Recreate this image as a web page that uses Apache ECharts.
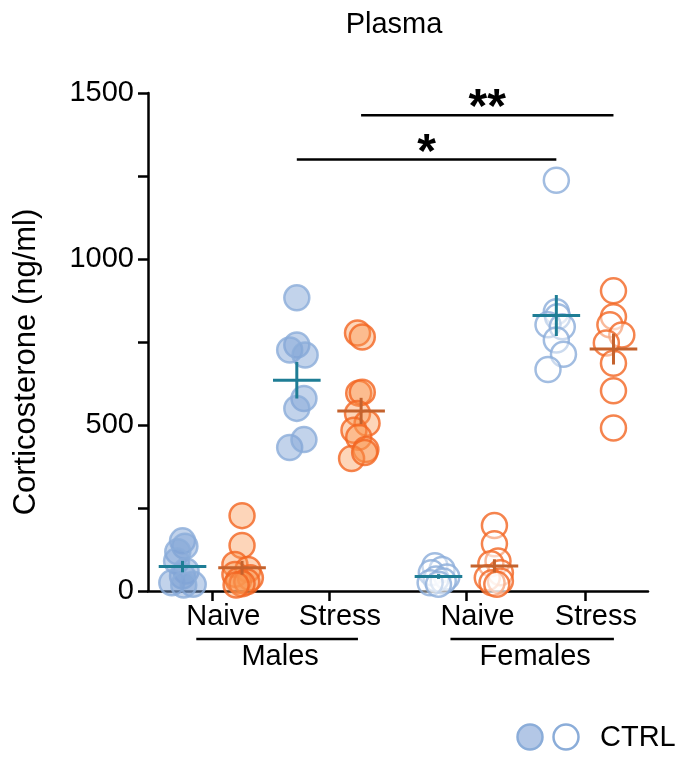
<!DOCTYPE html>
<html><head><meta charset="utf-8">
<script src="https://cdn.jsdelivr.net/npm/echarts@6/dist/echarts.min.js"></script>
<style>html,body{margin:0;padding:0;background:#fff}#c{width:677px;height:757px}</style>
</head><body><div id="c"></div>
<script>
// ---- data ----
const sexes = ['Males', 'Females'];
const conditions = ['Naive', 'Stress', 'Naive', 'Stress'];
const yTicks = [0, 500, 1000, 1500];
// corticosterone (ng/ml)
const maleNaiveCtrl   = [151, 135, 118, 90, 60, 45, 25, 20, 18];
const maleNaiveOther  = [227, 137, 80, 65, 50, 40, 32, 28, 22, 18];
const maleStressCtrl  = [883, 741, 726, 711, 580, 550, 432, 456];
const maleStressOther = [777, 765, 596, 599, 535, 505, 484, 463, 426, 399, 417];
const femNaiveCtrl    = [76, 65, 55, 42, 36, 30, 25, 20];
const femNaiveOther   = [197, 142, 90, 82, 55, 40, 30, 25, 20];
const femStressCtrl   = [1237, 841, 826, 802, 796, 756, 713, 667];
const femStressOther  = [904, 826, 802, 771, 747, 686, 603, 491];
// horizontal scatter (beeswarm) offsets, in group units
const maleNaiveCtrlJit   = [0, 0.02, -0.04, -0.05, 0.03, 0, -0.09, 0.09, 0.01];
const maleNaiveOtherJit  = [0.0, 0.0, -0.06, 0.05, -0.06, 0.07, -0.03, 0.04, 0.0, -0.05];
const maleStressCtrlJit  = [0, 0, -0.06, 0.07, 0.06, 0, -0.06, 0.06];
const maleStressOtherJit = [-0.03, 0.01, -0.02, 0.01, -0.03, 0.05, -0.06, -0.02, 0.04, -0.08, 0.03];
const femNaiveCtrlJit    = [-0.03, 0.03, -0.06, 0.07, -0.02, 0.04, -0.07, 0.0];
const femNaiveOtherJit   = [0, 0, 0.03, -0.03, 0.05, -0.06, 0.05, -0.02, 0.02];
const femStressCtrlJit   = [0, 0, 0.01, -0.07, 0.05, 0, 0.06, -0.07];
const femStressOtherJit  = [0, 0, -0.03, 0.07, -0.06, 0, 0, 0];
// significance annotations
const sigBars = [
  {from: 1, to: 3, cluster: 'ctrl', y: 1300, label: '*'},
  {from: 1, to: 3, cluster: 'other', y: 1433, label: '**'}
];

// ---- layout constants ----
const groupPos = [1, 2, 3.17, 4.17];
const ctrlOff = [-0.21, -0.25, -0.23, -0.24];
const otherOff = [0.29, 0.29, 0.24, 0.24];
const FONT = "'Liberation Sans', Arial, Helvetica, sans-serif";
const FS = 29;
const BLUE_FILL = 'rgba(128,162,214,0.6)', BLUE_EDGE = '#8badd9';
const OR_FILL = 'rgba(251,150,80,0.5)', OR_EDGE = '#f26522';
const BLUE_MEAN = '#1e7d95', OR_MEAN = '#c4622d';

function pts(vals, jit, g, off) {
  return vals.map((v, i) => [groupPos[g] + off[g] + jit[i], v]);
}
function stats(vals) {
  const n = vals.length, m = vals.reduce((a, b) => a + b, 0) / n;
  const sd = Math.sqrt(vals.reduce((a, b) => a + (b - m) * (b - m), 0) / (n - 1));
  return [m, sd / Math.sqrt(n)];
}
const ctrlGroups = [maleNaiveCtrl, maleStressCtrl, femNaiveCtrl, femStressCtrl];
const otherGroups = [maleNaiveOther, maleStressOther, femNaiveOther, femStressOther];
const ctrlJits = [maleNaiveCtrlJit, maleStressCtrlJit, femNaiveCtrlJit, femStressCtrlJit];
const otherJits = [maleNaiveOtherJit, maleStressOtherJit, femNaiveOtherJit, femStressOtherJit];

function scatter(name, data, filled, isCtrl) {
  return {
    type: 'scatter', name, data, symbol: 'circle', symbolSize: 25, z: 3,
    itemStyle: {
      color: filled ? (isCtrl ? BLUE_FILL : OR_FILL) : 'rgba(255,255,255,0.55)',
      borderColor: isCtrl ? BLUE_EDGE : OR_EDGE, borderWidth: 2.5
    },
    emphasis: {disabled: true}, silent: true
  };
}
const series = [];
for (let g = 0; g < 4; g++) {
  const filled = g < 2;
  series.push(scatter('CTRL ' + conditions[g] + ' ' + sexes[g < 2 ? 0 : 1], pts(ctrlGroups[g], ctrlJits[g], g, ctrlOff), filled, true));
  series.push(scatter('Other ' + conditions[g] + ' ' + sexes[g < 2 ? 0 : 1], pts(otherGroups[g], otherJits[g], g, otherOff), filled, false));
}
function meanSeries(groups, off, color) {
  const data = groups.map((vals, g) => { const [m, s] = stats(vals); return [groupPos[g] + off[g], m, s]; });
  return {
    type: 'custom', data, z: 5, silent: true,
    renderItem(params, api) {
      const x = api.value(0), m = api.value(1), s = api.value(2);
      const c = api.coord([x, m]), l = api.coord([x - 0.2, m]), r = api.coord([x + 0.2, m]);
      const t = api.coord([x, m + s]), b = api.coord([x, m - s]);
      return {type: 'group', children: [
        {type: 'line', shape: {x1: l[0], y1: c[1], x2: r[0], y2: c[1]}, style: {stroke: color, lineWidth: 3}},
        {type: 'line', shape: {x1: c[0], y1: t[1], x2: c[0], y2: b[1]}, style: {stroke: color, lineWidth: 3}}
      ]};
    }
  };
}
series.push(meanSeries(ctrlGroups, ctrlOff, BLUE_MEAN));
series.push(meanSeries(otherGroups, otherOff, OR_MEAN));
series.push({
  type: 'custom', z: 6, silent: true,
  data: sigBars.map(s => {
    const off = s.cluster === 'ctrl' ? ctrlOff : otherOff;
    return [groupPos[s.from] + off[s.from], groupPos[s.to] + off[s.to], s.y];
  }),
  renderItem(params, api) {
    const a = api.coord([api.value(0), api.value(2)]), b = api.coord([api.value(1), api.value(2)]);
    const lbl = sigBars[params.dataIndex].label;
    return {type: 'group', children: [
      {type: 'line', shape: {x1: a[0], y1: a[1], x2: b[0], y2: b[1]}, style: {stroke: '#000', lineWidth: 2.5}},
      {type: 'text', style: {text: lbl, x: (a[0] + b[0]) / 2, y: a[1] + 18, align: 'center', verticalAlign: 'bottom',
        textAlign: 'center', textVerticalAlign: 'bottom', font: 'bold 48px ' + FONT, fill: '#000'}}
    ]};
  }
});

const tickPos = [0, 1, 2, 3].map(g => (groupPos[g] + ctrlOff[g] + groupPos[g] + otherOff[g]) / 2);

const chart = echarts.init(document.getElementById('c'), null, {renderer: 'canvas'});
chart.setOption({
  animation: false,
  backgroundColor: '#fff',
  textStyle: {fontFamily: FONT},
  title: {text: 'Plasma', left: 389, top: 5, textAlign: 'center',
    textStyle: {fontSize: FS, fontWeight: 'normal', color: '#000', fontFamily: FONT}},
  grid: {left: 148, right: 29, top: 93, bottom: 166, containLabel: false},
  xAxis: {
    type: 'value', min: 0.5, max: 4.7,
    axisLine: {show: true, onZero: false, lineStyle: {color: '#000', width: 2.5}},
    axisTick: {show: true, customValues: tickPos, length: 10, lineStyle: {color: '#000', width: 2.5}},
    axisLabel: {show: true, customValues: tickPos, fontSize: FS, color: '#000', fontFamily: FONT, margin: 11,
      padding: [0, 0, 0, 22],
      formatter: v => { const i = tickPos.findIndex(t => Math.abs(t - v) < 1e-6); return i >= 0 ? conditions[i] : ''; }},
    splitLine: {show: false}
  },
  yAxis: {
    type: 'value', min: 0, max: 1500, interval: 500,
    name: 'Corticosterone (ng/ml)', nameLocation: 'middle', nameGap: 106,
    nameTextStyle: {fontSize: 31, color: '#000', fontFamily: FONT, padding: [0, 40, 0, 0]},
    axisLine: {show: true, lineStyle: {color: '#000', width: 2.5}},
    axisTick: {show: true, length: 10, lineStyle: {color: '#000', width: 2.5}},
    minorTick: {show: true, splitNumber: 2, length: 10, lineStyle: {color: '#000', width: 2.5}},
    axisLabel: {fontSize: FS, color: '#000', fontFamily: FONT, margin: 14,
      formatter: v => yTicks.includes(v) ? String(v) : ''},
    splitLine: {show: false}
  },
  series
});

// group (sex) brackets under the axis, positioned from the axis scale
const px = v => chart.convertToPixel({xAxisIndex: 0}, v);
const graphics = [];
sexes.forEach((s, k) => {
  const x1 = px(tickPos[2 * k]) - 16, x2 = px(tickPos[2 * k + 1]) + 29;
  graphics.push({type: 'line', shape: {x1, y1: 639, x2, y2: 639}, style: {stroke: '#000', lineWidth: 2.5}});
  graphics.push({type: 'text', style: {text: s, x: (x1 + x2) / 2 + 3, y: 657, align: 'center', verticalAlign: 'middle',
    font: FS + 'px ' + FONT, fill: '#000'}});
});
// legend
graphics.push({type: 'circle', shape: {cx: 530, cy: 737, r: 12.5}, style: {fill: BLUE_FILL, stroke: BLUE_EDGE, lineWidth: 2.5}});
graphics.push({type: 'circle', shape: {cx: 566, cy: 737, r: 12.5}, style: {fill: '#fff', stroke: BLUE_EDGE, lineWidth: 2.5}});
graphics.push({type: 'text', style: {text: 'CTRL', x: 600, y: 738, align: 'left', verticalAlign: 'middle', font: FS + 'px ' + FONT, fill: '#000'}});
chart.setOption({graphic: graphics});
</script>
</body></html>
